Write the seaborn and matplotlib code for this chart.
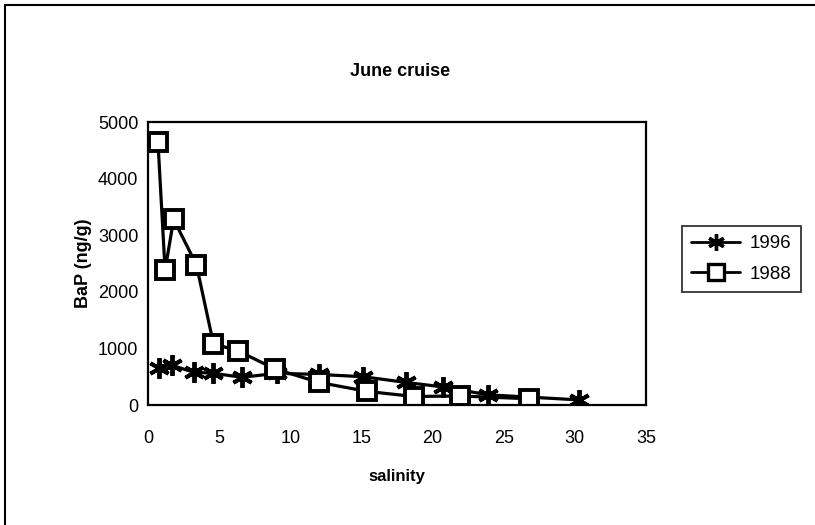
# June cruise: BaP vs salinity, 1996 vs 1988
import pandas as pd
import matplotlib
matplotlib.use('Agg')
import matplotlib.pyplot as plt
import seaborn as sns
from matplotlib.lines import Line2D

# Data
salinity_1996 = [0.8, 1.7, 3.2, 4.6, 6.6, 9.1, 12.0, 15.1, 18.1, 20.7, 23.9, 30.3]
bap_1996 = [650, 700, 580, 560, 490, 560, 540, 500, 400, 320, 180, 90]

salinity_1988 = [0.7, 1.2, 1.8, 3.4, 4.6, 6.3, 8.9, 12.0, 15.4, 18.7, 21.9, 26.8]
bap_1988 = [4650, 2380, 3280, 2480, 1080, 960, 640, 400, 240, 150, 160, 110]

x_ticks = [0, 5, 10, 15, 20, 25, 30, 35]
y_ticks = [0, 1000, 2000, 3000, 4000, 5000]

df96 = pd.DataFrame({'salinity': salinity_1996, 'bap': bap_1996})
df88 = pd.DataFrame({'salinity': salinity_1988, 'bap': bap_1988})

sns.set_style('white')
plt.rcParams['font.family'] = ['Liberation Sans', 'DejaVu Sans']
plt.rcParams['font.size'] = 13
plt.rcParams['text.color'] = 'black'
plt.rcParams['axes.labelcolor'] = 'black'

fig = plt.figure(figsize=(8.15, 5.25), dpi=100)
ax = fig.add_axes([148 / 815, 1 - 405 / 525, (646 - 148) / 815, (405 - 122) / 525])

star = (6, 2, 0)
sns.lineplot(data=df96, x='salinity', y='bap', ax=ax, color='black', linewidth=2.3,
             marker=star, markersize=15, markeredgewidth=2.8, markeredgecolor='black',
             sort=False, legend=False)
sns.lineplot(data=df88, x='salinity', y='bap', ax=ax, color='black', linewidth=2.3,
             marker='s', markersize=13, markerfacecolor='white', markeredgecolor='black',
             markeredgewidth=2.8, sort=False, legend=False)

ax.set_xlim(0, 35)
ax.set_ylim(0, 5000)
ax.set_xticks(x_ticks)
ax.set_yticks(y_ticks)
ax.tick_params(axis='both', direction='inout', length=8, width=1.3, colors='black',
               labelsize=13)
ax.tick_params(axis='x', pad=14)
ax.tick_params(axis='y', pad=3)
for s in ax.spines.values():
    s.set_visible(True)
    s.set_color('black')
    s.set_linewidth(1.6)

ax.set_xlabel('salinity', fontsize=12, fontweight='bold', labelpad=16)
ax.set_ylabel('BaP (ng/g)', fontsize=13, fontweight='bold', labelpad=4)
fig.text(400 / 815, 1 - 72 / 525, 'June cruise', ha='center', va='center',
         fontsize=13, fontweight='bold')

handles = [
    Line2D([], [], color='black', linewidth=2, marker=star, markersize=12,
           markeredgewidth=2.4, label='1996'),
    Line2D([], [], color='black', linewidth=2, marker='s', markersize=11,
           markerfacecolor='white', markeredgewidth=2.4, label='1988'),
]
leg = fig.legend(handles=handles, loc='center left',
                 bbox_to_anchor=(682 / 815, 1 - 259 / 525), frameon=True,
                 fancybox=False, edgecolor='black', fontsize=13.5, handlelength=2.6,
                 borderpad=0.5, labelspacing=0.7, handletextpad=0.5, borderaxespad=0)
leg.get_frame().set_linewidth(1.3)

# outer chart border (left and top visible in the reference)
fig.add_artist(Line2D([5 / 815, 1], [1 - 5 / 525, 1 - 5 / 525], color='black',
                      linewidth=1.5, transform=fig.transFigure))
fig.add_artist(Line2D([5 / 815, 5 / 815], [0, 1 - 5 / 525], color='black',
                      linewidth=1.5, transform=fig.transFigure))

fig.savefig('out.png', dpi=100)
